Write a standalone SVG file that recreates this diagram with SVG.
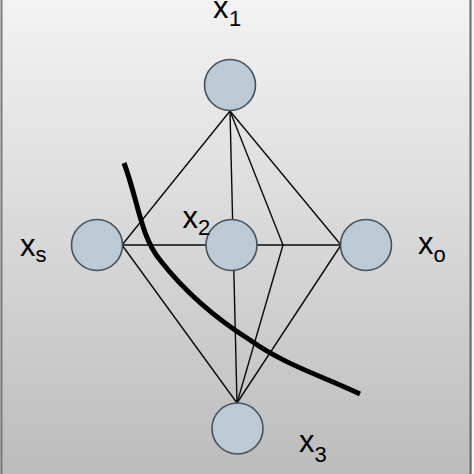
<svg xmlns="http://www.w3.org/2000/svg" width="474" height="474" viewBox="0 0 474 474">
<defs>
<linearGradient id="bg" x1="0" y1="0" x2="0" y2="1">
<stop offset="0" stop-color="#f3f3f3"/>
<stop offset="0.5" stop-color="#d8d8d8"/>
<stop offset="1" stop-color="#bcbcbc"/>
</linearGradient>
<style>
.node{fill:#bccad6;stroke:#44525e;stroke-width:1.6}
.edge{fill:none;stroke:#0a0a0a;stroke-width:1.4}
.cut{fill:none;stroke:#000;stroke-width:5;stroke-linecap:butt}
.lbl{font-family:"Liberation Sans",Arial,sans-serif;font-size:31px;fill:#000}
.sub{font-size:22px}
</style>
</defs>
<rect x="0" y="0" width="474" height="474" fill="url(#bg)"/>
<rect x="472" y="0" width="2" height="474" fill="#f5f5f5"/>
<line x1="1.5" y1="0" x2="1.5" y2="474" stroke="#7a7a7a" stroke-width="2"/>
<line x1="470.5" y1="0" x2="470.5" y2="474" stroke="#6a6a6a" stroke-width="2"/>
<g id="connectors">
<line class="edge" x1="230" y1="111" x2="122" y2="245"/>
<line class="edge" x1="230" y1="111" x2="237" y2="403"/>
<polyline class="edge" points="230,111 283,245 237,403"/>
<line class="edge" x1="230" y1="111" x2="341" y2="245"/>
<line class="edge" x1="122" y1="245" x2="341" y2="245"/>
<line class="edge" x1="122" y1="245" x2="237" y2="403"/>
<line class="edge" x1="341" y1="245" x2="237" y2="403"/>
</g>
<path id="cut" class="cut" d="M124,163 C138,200 140,235 160,260 C185,292 215,318 250,340 C285,365 320,375 360,394"/>
<g id="x1">
<circle class="node" cx="230" cy="85" r="25.5"/>
<text class="lbl" x="213" y="18">x<tspan class="sub" x="229" y="26">1</tspan></text>
</g>
<g id="xs">
<circle class="node" cx="97" cy="245" r="25.5"/>
<text class="lbl" x="20" y="256">x<tspan class="sub" x="35.5" y="262">s</tspan></text>
</g>
<g id="x2">
<circle class="node" cx="231.5" cy="245" r="25.5"/>
<text class="lbl" x="182.5" y="228">x<tspan class="sub" x="198" y="235">2</tspan></text>
</g>
<g id="xo">
<circle class="node" cx="366" cy="245" r="25.5"/>
<text class="lbl" x="418" y="254">x<tspan class="sub" x="433.5" y="262">o</tspan></text>
</g>
<g id="x3">
<circle class="node" cx="237.5" cy="428.5" r="25.5"/>
<text class="lbl" x="299" y="452">x<tspan class="sub" x="314.5" y="462">3</tspan></text>
</g>
</svg>
